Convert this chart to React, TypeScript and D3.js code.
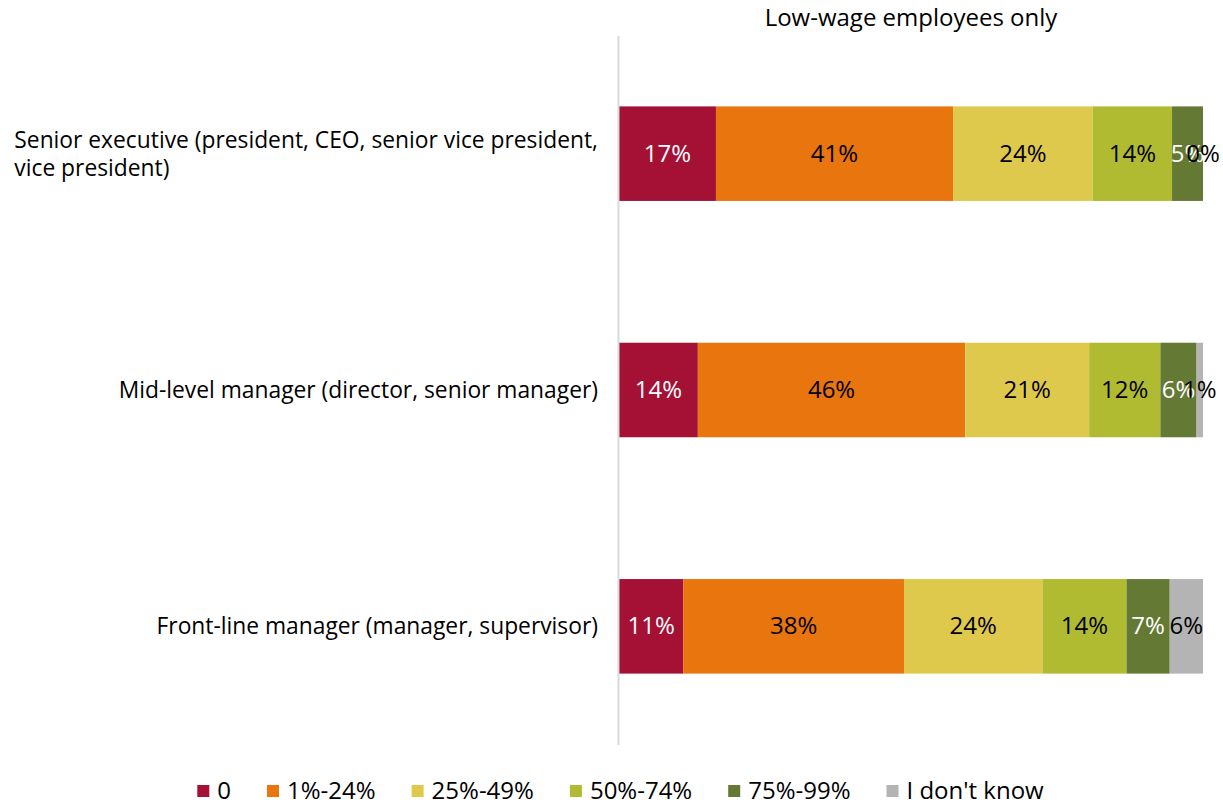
import React, { useEffect, useRef } from "react"
import * as d3 from "d3"

const WIDTH = 1223
const HEIGHT = 806
const FONT = "'Open Sans', 'Liberation Sans', sans-serif"
const FONT_SIZE = 24
const CATEGORY_FONT_SIZE = 22.8

const TITLE = "Low-wage employees only"

const categories = [
	"Senior executive (president, CEO, senior vice president, vice president)",
	"Mid-level manager (director, senior manager)",
	"Front-line manager (manager, supervisor)",
]

const seriesNames = ["0", "1%-24%", "25%-49%", "50%-74%", "75%-99%", "I don't know"]
const seriesColors = ["#a51035", "#e8750d", "#dfc94c", "#b0bb32", "#647934", "#b4b4b4"]
const labelColors = ["#ffffff", "#000000", "#000000", "#000000", "#ffffff", "#000000"]

// share of respondents (%), one value per category
const zeroShare = [16.6, 13.5, 11.0]
const share1to24 = [40.6, 45.8, 37.8]
const share25to49 = [23.9, 21.2, 23.7]
const share50to74 = [13.6, 12.2, 14.4]
const share75to99 = [5.3, 6.2, 7.4]
const shareDontKnow = [0, 1.1, 5.7]

const seriesValues = [zeroShare, share1to24, share25to49, share50to74, share75to99, shareDontKnow]

const App = () => {
	const svgRef = useRef<SVGSVGElement>(null)

	useEffect(() => {
		if (!svgRef.current) return
		const svg = d3.select(svgRef.current)
		svg.selectAll("*").remove()

		const margin = { top: 36, right: 20, bottom: 61, left: 619 }
		const plotRight = 1203

		const rows = categories.map((c, i) => {
			const row: any = { category: c }
			seriesNames.forEach((s, j) => (row[s] = seriesValues[j][i]))
			return row
		})
		const stacked = d3.stack().keys(seriesNames)(rows)

		const xScale = d3.scaleLinear().domain([0, 100]).range([margin.left, plotRight])
		const yScale = d3
			.scaleBand()
			.domain(categories)
			.range([margin.top - 0.5, HEIGHT - margin.bottom - 0.5])
			.paddingInner(0.6)
			.paddingOuter(0.3)

		// title
		svg.append("text")
			.attr("x", (margin.left + plotRight) / 2)
			.attr("y", 26)
			.attr("text-anchor", "middle")
			.style("font-size", `${FONT_SIZE}px`)
			.style("fill", "#000")
			.text(TITLE)

		// segments
		const groups = svg
			.append("g")
			.selectAll("g")
			.data(stacked)
			.join("g")
			.attr("fill", (_d, i) => seriesColors[i])

		groups
			.selectAll("rect")
			.data((d) => d.map((p) => ({ p, key: d.key })))
			.join("rect")
			.attr("x", (d) => xScale(d.p[0]))
			.attr("y", (d) => yScale(d.p.data.category as any)!)
			.attr("width", (d) => xScale(d.p[1]) - xScale(d.p[0]))
			.attr("height", yScale.bandwidth())

		// axis line
		svg.append("line")
			.attr("x1", margin.left - 0.5)
			.attr("x2", margin.left - 0.5)
			.attr("y1", margin.top)
			.attr("y2", HEIGHT - margin.bottom)
			.attr("stroke", "#d9d9d9")
			.attr("stroke-width", 2)

		// value labels
		stacked.forEach((layer, i) => {
			svg.append("g")
				.selectAll("text")
				.data(layer)
				.join("text")
				.attr("x", (d) => (xScale(d[0]) + xScale(d[1])) / 2)
				.attr("y", (d) => yScale(d.data.category as any)! + yScale.bandwidth() / 2 + 8)
				.attr("text-anchor", "middle")
				.style("font-size", `${FONT_SIZE}px`)
				.style("fill", labelColors[i])
				.text((d) => `${Math.round(d[1] - d[0])}%`)
		})

		// category labels, wrapped; block right-aligned, lines left-aligned
		const maxLabelWidth = 590
		const lineHeight = 28
		const labelRight = 598
		categories.forEach((c) => {
			const t = svg.append("text")
				.attr("text-anchor", "start")
				.style("font-size", `${CATEGORY_FONT_SIZE}px`)
				.style("fill", "#000")
			const words = c.split(" ")
			const lines: string[] = []
			let line: string[] = []
			const probe = t.append("tspan")
			const measure = (s: string) => {
				probe.text(s)
				return (probe.node() as SVGTSpanElement).getComputedTextLength()
			}
			words.forEach((w) => {
				line.push(w)
				if (measure(line.join(" ")) > maxLabelWidth && line.length > 1) {
					line.pop()
					lines.push(line.join(" "))
					line = [w]
				}
			})
			lines.push(line.join(" "))
			const blockWidth = d3.max(lines, measure) || 0
			probe.remove()
			const cy = yScale(c)! + yScale.bandwidth() / 2
			const firstY = cy - ((lines.length - 1) * lineHeight) / 2 + 8
			lines.forEach((l, k) => {
				t.append("tspan")
					.attr("x", labelRight - blockWidth)
					.attr("y", firstY + k * lineHeight)
					.text(l)
			})
		})

		// legend
		const legend = svg.append("g")
		const swatch = 12
		const gap = 36
		let cursor = 0
		seriesNames.forEach((s, i) => {
			const item = legend.append("g").attr("transform", `translate(${cursor},0)`)
			item.append("rect")
				.attr("x", 0)
				.attr("y", -swatch / 2)
				.attr("width", swatch)
				.attr("height", swatch)
				.attr("fill", seriesColors[i])
			const label = item.append("text")
				.attr("x", swatch + 8)
				.attr("y", 8)
				.style("font-size", `${FONT_SIZE}px`)
				.style("fill", "#000")
				.text(s)
			const w = (label.node() as SVGTextElement).getComputedTextLength()
			cursor += swatch + 8 + w + gap
		})
		const legendWidth = cursor - gap
		legend.attr("transform", `translate(${620.5 - legendWidth / 2},791)`)
	}, [])

	return (
		<svg
			ref={svgRef}
			width={WIDTH}
			height={HEIGHT}
			style={{ position: "absolute", left: 0, top: 0, display: "block", background: "#fff", fontFamily: FONT }}
		></svg>
	)
}

export default App
